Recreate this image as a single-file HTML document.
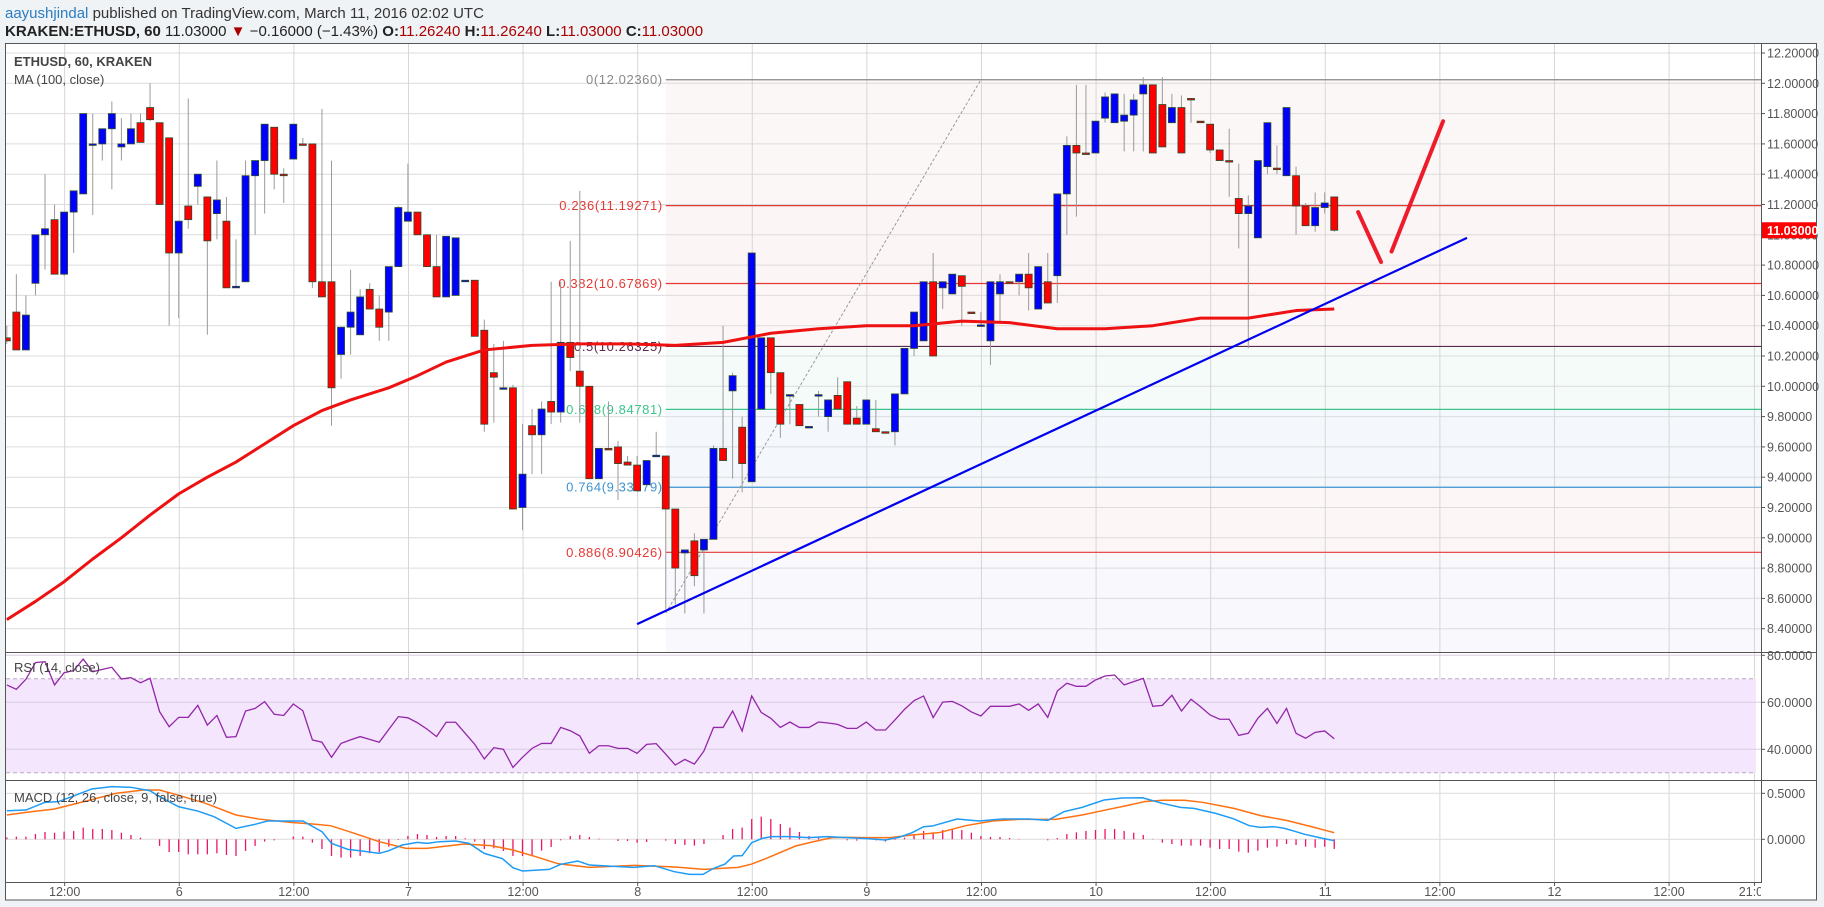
<!DOCTYPE html>
<html><head><meta charset="utf-8"><style>
html,body{margin:0;padding:0;background:#f0f3f6;}
svg{display:block;font-family:"Liberation Sans",sans-serif;}
</style></head><body>
<svg id="c" width="1824" height="907" viewBox="0 0 1824 907" xmlns="http://www.w3.org/2000/svg">
<rect x="0" y="0" width="1824" height="907" fill="#f0f3f6"/>
<text x="5" y="18" font-size="15"><tspan fill="#2a7dc1">aayushjindal</tspan><tspan fill="#333"> published on TradingView.com, March 11, 2016 02:02 UTC</tspan></text>
<text x="5" y="36" font-size="15" fill="#222"><tspan font-weight="bold">KRAKEN:ETHUSD, 60</tspan><tspan> 11.03000 </tspan><tspan fill="#a00">▼</tspan><tspan> −0.16000 (−1.43%) </tspan><tspan font-weight="bold">O:</tspan><tspan fill="#a00">11.26240 </tspan><tspan font-weight="bold">H:</tspan><tspan fill="#a00">11.26240 </tspan><tspan font-weight="bold">L:</tspan><tspan fill="#a00">11.03000 </tspan><tspan font-weight="bold">C:</tspan><tspan fill="#a00">11.03000</tspan></text>
<rect x="5.5" y="43.5" width="1811" height="856.5" fill="#fff" stroke="#555"/>
<defs>
<clipPath id="cm"><rect x="6" y="44" width="1755" height="608"/></clipPath>
<clipPath id="cr"><rect x="6" y="653" width="1755" height="127"/></clipPath>
<clipPath id="cd"><rect x="6" y="781" width="1755" height="101"/></clipPath>
<clipPath id="ct"><rect x="6" y="882" width="1755" height="18"/></clipPath>
</defs>
<g id="gMain" clip-path="url(#cm)"></g>
<g id="gRsi" clip-path="url(#cr)"></g>
<g id="gMacd" clip-path="url(#cd)"></g>
<g id="gTime" clip-path="url(#ct)"></g>
<g id="gAxis"></g>
<line x1="1761.5" y1="44" x2="1761.5" y2="882" stroke="#555"/>
<line x1="6" y1="652.5" x2="1817" y2="652.5" stroke="#555"/>
<line x1="6" y1="780.5" x2="1817" y2="780.5" stroke="#555"/>
<line x1="6" y1="882.5" x2="1762" y2="882.5" stroke="#555"/>
<text x="14" y="66" font-size="13" font-weight="bold" fill="#444">ETHUSD, 60, KRAKEN</text>
<text x="14" y="84" font-size="13" fill="#444">MA (100, close)</text>
<text x="14" y="672" font-size="13" fill="#444">RSI (14, close)</text>
<text x="14" y="802" font-size="13" fill="#444">MACD (12, 26, close, 9, false, true)</text>
</svg>
<script>
const opens=[10.32,10.49,10.24,10.68,11.00,11.10,10.74,11.15,11.27,11.60,11.60,11.70,11.58,11.60,11.74,11.84,11.74,11.64,10.88,11.19,11.32,11.25,11.14,11.09,10.65,10.69,11.39,11.49,11.71,11.40,11.50,11.60,11.60,10.69,10.69,10.21,10.39,10.34,10.64,10.51,10.49,10.79,11.09,11.15,11.00,10.79,10.59,10.60,10.70,10.70,10.37,10.09,9.99,9.99,9.20,9.74,9.68,9.90,9.83,10.29,10.10,10.00,9.39,9.59,9.60,9.50,9.48,9.35,9.54,9.54,9.19,8.90,8.98,8.92,8.99,9.59,9.97,9.73,9.37,9.85,10.32,10.09,9.94,9.88,9.73,9.94,9.80,9.94,10.03,9.79,9.75,9.72,9.70,9.70,9.95,10.25,10.30,10.69,10.65,10.61,10.73,10.49,10.40,10.30,10.61,10.69,10.69,10.74,10.51,10.69,10.73,11.27,11.59,11.54,11.54,11.77,11.74,11.75,11.79,11.93,11.99,11.86,11.74,11.84,11.90,11.75,11.73,11.56,11.49,11.24,11.14,10.98,11.45,11.44,11.39,11.39,11.19,11.06,11.18,11.25];
const highs=[10.40,10.74,10.60,11.00,11.40,11.20,11.15,11.29,11.80,11.80,11.70,11.88,11.77,11.80,11.80,12.00,11.74,11.64,11.09,11.90,11.40,11.25,11.49,11.25,10.97,11.49,11.49,11.73,11.71,11.44,11.73,11.64,11.60,11.83,11.49,10.39,10.77,10.64,10.68,10.60,10.79,11.19,11.47,11.15,11.00,11.00,10.99,10.98,10.70,10.70,10.44,10.28,10.30,10.01,9.75,9.85,9.90,10.69,10.69,10.96,11.29,10.00,9.59,9.90,9.64,9.54,9.54,9.51,9.70,9.54,9.19,8.92,9.03,8.99,9.61,10.40,10.09,9.80,10.88,10.32,10.32,10.09,9.94,9.88,9.73,9.97,9.91,10.06,10.03,9.87,9.91,9.91,9.70,9.95,10.25,10.49,10.69,10.88,10.69,10.74,10.73,10.49,10.49,10.69,10.74,10.69,10.74,10.88,10.79,10.88,11.27,11.65,11.99,11.99,11.75,11.94,11.93,11.93,11.93,12.04,11.99,12.04,11.93,11.92,11.90,11.75,11.73,11.56,11.70,11.47,11.26,11.49,11.74,11.59,11.84,11.45,11.21,11.28,11.28,11.25];
const lows=[10.28,10.24,10.24,10.60,10.77,10.74,10.73,10.88,11.27,11.13,11.49,11.30,11.49,11.60,11.61,11.75,11.20,10.40,10.45,11.04,11.20,10.34,10.97,10.65,10.65,10.69,11.00,11.14,11.30,11.21,11.50,11.60,10.65,10.59,9.74,10.05,10.21,10.34,10.51,10.30,10.30,10.79,11.09,11.00,10.79,10.59,10.59,10.60,10.70,10.33,9.70,9.76,9.99,9.19,9.05,9.42,9.42,9.75,9.76,10.10,9.76,9.39,9.39,9.58,9.25,9.48,9.31,9.35,9.54,8.53,8.56,8.50,8.68,8.50,8.99,9.51,9.39,9.30,9.37,9.85,9.95,9.66,9.75,9.74,9.73,9.80,9.70,9.85,9.75,9.75,9.75,9.70,9.69,9.61,9.95,10.20,10.30,10.20,10.51,10.61,10.40,10.48,10.40,10.14,10.43,10.68,10.60,10.50,10.51,10.55,10.55,11.00,11.12,11.53,11.54,11.74,11.74,11.55,11.55,11.55,11.54,11.58,11.74,11.54,11.74,11.74,11.54,11.49,11.25,10.91,10.25,10.98,11.40,11.40,11.39,11.00,11.06,11.02,11.14,11.02];
const closes=[10.30,10.24,10.47,11.00,11.04,10.74,11.15,11.29,11.80,11.60,11.70,11.80,11.60,11.70,11.61,11.76,11.20,10.88,11.09,11.10,11.40,10.96,11.23,10.65,10.66,11.39,11.49,11.73,11.40,11.39,11.73,11.595,10.69,10.59,9.99,10.39,10.49,10.59,10.51,10.39,10.79,11.18,11.15,11.00,10.79,10.59,10.99,10.98,10.70,10.33,9.75,10.06,9.99,9.19,9.42,9.68,9.85,9.83,10.29,10.19,10.00,9.39,9.59,9.58,9.49,9.48,9.31,9.51,9.545,9.19,8.80,8.92,8.75,8.99,9.59,9.51,10.07,9.49,10.88,10.32,10.09,9.75,9.945,9.74,9.735,9.945,9.91,9.85,9.75,9.75,9.91,9.70,9.695,9.95,10.25,10.49,10.69,10.20,10.69,10.74,10.66,10.485,10.405,10.69,10.69,10.685,10.74,10.65,10.79,10.55,11.27,11.59,11.54,11.535,11.75,11.91,11.93,11.79,11.89,11.99,11.54,11.58,11.84,11.54,11.895,11.74,11.56,11.49,11.485,11.14,11.19,11.49,11.74,11.435,11.84,11.19,11.06,11.18,11.21,11.03];
const maIdx=[0,3,6,9,12,15,18,21,24,27,30,33,36,40,43,46,50,55,60,65,70,75,80,85,90,95,100,105,110,115,120,125,130,135,139];
const maVal=[8.46,8.58,8.71,8.86,9.00,9.15,9.29,9.40,9.50,9.62,9.74,9.84,9.91,9.99,10.07,10.16,10.24,10.27,10.28,10.28,10.27,10.29,10.35,10.38,10.40,10.40,10.43,10.42,10.38,10.38,10.40,10.45,10.45,10.50,10.51];
const rsiVals=[67.4,65.5,69.8,76.9,77.3,67.4,72.6,73.5,78.4,73.0,74.0,74.9,69.9,70.5,68.3,70.2,56.0,49.6,53.6,53.6,58.7,50.3,54.4,45.1,45.4,56.3,57.4,60.3,54.9,54.4,59.3,56.4,44.0,43.0,36.6,42.5,44.0,45.4,44.2,43.0,48.5,53.9,53.4,51.3,48.6,45.4,51.5,51.5,46.8,42.1,35.9,40.7,40.0,32.3,36.6,40.4,42.5,42.5,49.3,47.9,45.7,38.3,41.5,41.5,40.4,40.4,38.3,42.1,42.4,37.9,33.3,35.7,33.7,39.3,49.3,49.3,56.3,47.8,62.7,55.7,53.2,49.3,51.6,49.3,49.3,51.6,51.2,50.6,48.9,48.9,51.6,48.2,48.2,52.5,57.0,60.7,62.7,53.5,60.1,60.4,58.5,55.9,54.2,58.3,58.3,58.3,59.3,56.6,59.3,53.6,64.8,68.1,66.8,66.8,69.5,71.2,71.6,67.4,68.8,70.2,58.3,58.7,63.0,56.3,61.3,58.1,54.6,52.8,52.8,45.9,46.8,53.2,57.4,51.0,57.4,46.8,44.7,47.2,47.8,44.5];
const histVals=[0.02,0.029,0.029,0.058,0.080,0.072,0.083,0.091,0.127,0.112,0.112,0.101,0.072,0.047,0.018,0,-0.072,-0.138,-0.138,-0.163,-0.163,-0.163,-0.152,-0.170,-0.181,-0.127,-0.072,-0.025,-0.011,0,0.029,0.029,-0.036,-0.105,-0.181,-0.199,-0.199,-0.181,-0.152,-0.141,-0.080,-0.007,0.036,0.058,0.047,0.025,0.036,0.036,0.011,-0.025,-0.105,-0.098,-0.127,-0.181,-0.181,-0.170,-0.123,-0.083,-0.011,0.036,0.047,0.025,0.007,0,-0.018,-0.018,-0.036,-0.029,0,-0.014,-0.051,-0.062,-0.069,-0.051,0,0.047,0.112,0.127,0.221,0.246,0.221,0.167,0.127,0.080,0.036,0.018,0.004,0,-0.011,-0.014,0,-0.011,-0.025,-0.007,0.018,0.054,0.091,0.076,0.101,0.112,0.101,0.072,0.036,0.025,0.025,0.014,0.004,0,0,-0.011,0.014,0.058,0.076,0.091,0.101,0.112,0.112,0.091,0.072,0.047,0.004,-0.036,-0.051,-0.069,-0.069,-0.069,-0.091,-0.105,-0.105,-0.134,-0.145,-0.123,-0.091,-0.080,-0.051,-0.062,-0.080,-0.091,-0.080,-0.105];
const macdIdx=[0,2,4,5.4,6.8,8.9,11,13,15,16,18,20,21.7,24,26,27.3,29.7,31,33,34,35.7,37,39,40,41.4,43,44,45.3,47,48.4,50,51.9,53,54,56.8,58,59.8,61,62.9,65.7,67.8,69.9,71.5,72.9,74,75.2,76.1,77,78,79.1,80.1,82,84,85.9,88,90.1,92,93.4,94.8,96,96.9,99.5,101.8,104.2,107,109,110.7,112.6,114.9,116.8,118.9,121,122.9,124.3,126.6,128.5,130.1,131.3,132.7,133.8,135,135.9,137.8,139];
const macdVals=[0.311,0.318,0.402,0.409,0.463,0.547,0.572,0.565,0.528,0.463,0.354,0.307,0.246,0.119,0.163,0.199,0.199,0.199,0.083,-0.044,-0.109,-0.124,-0.153,-0.124,-0.062,-0.033,-0.044,-0.026,-0.019,-0.044,-0.153,-0.211,-0.309,-0.345,-0.327,-0.272,-0.236,-0.280,-0.290,-0.305,-0.287,-0.352,-0.381,-0.381,-0.316,-0.269,-0.182,-0.178,-0.037,0.010,0.029,0.029,0.018,0.029,0.018,0.007,-0.007,0.021,0.072,0.137,0.144,0.221,0.199,0.221,0.221,0.206,0.300,0.347,0.427,0.449,0.452,0.391,0.347,0.336,0.282,0.221,0.148,0.130,0.137,0.119,0.083,0.054,0.010,-0.015];
const sigIdx=[0,2,5,9,11.4,14.3,16,18,20.8,24,26.4,29.7,32,33.9,36.2,39,41.8,44,47.9,50.7,53,55.4,57.7,61,65.7,69.4,70.5,73,76.6,78,79.8,82.6,84.5,86.4,88.3,90.1,92.5,94.8,97.6,100.4,103.2,106,109.8,112.6,115.4,117.2,119.1,121,123.3,125.2,128.5,131.3,134.1,136.9,139];
const sigVals=[0.264,0.293,0.329,0.434,0.499,0.536,0.536,0.478,0.391,0.264,0.220,0.184,0.166,0.148,0.072,-0.026,-0.098,-0.098,-0.051,-0.069,-0.116,-0.189,-0.265,-0.305,-0.283,-0.298,-0.305,-0.327,-0.305,-0.269,-0.196,-0.073,-0.025,0.018,0.021,0.018,0.018,0.047,0.072,0.148,0.199,0.217,0.217,0.264,0.326,0.365,0.409,0.424,0.424,0.402,0.336,0.257,0.203,0.130,0.072];
const priceTicks=[12.2,12.0,11.8,11.6,11.4,11.2,11.0,10.8,10.6,10.4,10.2,10.0,9.8,9.6,9.4,9.2,9.0,8.8,8.6,8.4];
const priceTickLabels=["12.20000","12.00000","11.80000","11.60000","11.40000","11.20000","11.00000","10.80000","10.60000","10.40000","10.20000","10.00000","9.80000","9.60000","9.40000","9.20000","9.00000","8.80000","8.60000","8.40000"];
const rsiTicks=[80,60,40];
const rsiTickLabels=["80.0000","60.0000","40.0000"];
const macdTicks=[0.5,0];
const macdTickLabels=["0.5000","0.0000"];
const timeTickIdx=[6.06,18.06,30.06,42.06,54.06,66.06,78.06,90.06,102.06,114.06,126.06,138.06,150.06,162.06,174.06,183.0];
const timeTickLabels=["12:00","6","12:00","7","12:00","8","12:00","9","12:00","10","12:00","11","12:00","12","12:00","21:00"];
const fibLevels=[0,0.236,0.382,0.5,0.618,0.764,0.886];
const fibColors=["#888888","#e53935","#e53935","#5a2a4a","#3cc48c","#3d94d0","#e53935"];
const fibFills=["#fcf7f7","#fcf5f5","#fcf6f6","#f5fbf9","#f4f8fc","#fcf6f7","#f8f8fd"];
const fibHigh=12.0236, fibLow=8.5029, fibStartIdx=69, fibEndIdx=102;
const trendIdx=[66,152.9], trendVal=[8.43,10.98];
const arrowA_Idx=[141.5,143.9], arrowA_Val=[11.15,10.82];
const arrowB_Idx=[145.0,150.4], arrowB_Val=[10.89,11.75];
const lastPrice=11.03;

const NS="http://www.w3.org/2000/svg";
const X=i=>6.8+9.55*i;
const Y=p=>53+(12.2-p)*151.5;
const YR=v=>749.3-(v-40)*2.35;
const YM=v=>839.3-v*92;
function mk(t,a,parent){const e=document.createElementNS(NS,t);for(const k in a)e.setAttribute(k,a[k]);parent.appendChild(e);return e;}
const gM=document.getElementById('gMain'),gR=document.getElementById('gRsi'),gD=document.getElementById('gMacd'),gT=document.getElementById('gTime'),gA=document.getElementById('gAxis');
const fibPrice=l=>fibHigh-l*(fibHigh-fibLow);

// fib background bands
const fx0=X(fibStartIdx);
for(let k=0;k<fibLevels.length;k++){
  const top=Y(fibPrice(fibLevels[k])), bot=k+1<fibLevels.length?Y(fibPrice(fibLevels[k+1])):652;
  const r=mk('rect',{x:fx0,y:top,width:1761-fx0,height:bot-top,fill:fibFills[k]},gM);
  
  
}
// grids
priceTicks.forEach(p=>{const l=mk('line',{x1:6,x2:1761,y1:Y(p),y2:Y(p),stroke:'#dcdcdc'},gM);
  
  });
[gM,gR,gD].forEach((g,gi)=>{timeTickIdx.forEach(t=>{const l=mk('line',{x1:X(t),x2:X(t),y1:gi==0?44:gi==1?653:781,y2:gi==0?652:gi==1?780:882,stroke:'#d6d6d6'},g);
  
  });});
// fib lines + labels
fibLevels.forEach((lv,k)=>{const y=Y(fibPrice(lv));
  const l=mk('line',{x1:fx0,x2:1761,y1:y,y2:y,stroke:fibColors[k],'stroke-width':1.2},gM);
  
  
  const t=mk('text',{x:fx0-3,y:y+4.5,'text-anchor':'end','font-size':13,fill:fibColors[k],'letter-spacing':'0.6'},gM);
  t.textContent=lv+'('+fibPrice(lv).toFixed(5)+')';
  
  });
// fib dashed diagonal
const fd=mk('line',{x1:X(fibStartIdx),y1:Y(fibLow),x2:X(fibEndIdx),y2:Y(fibHigh),stroke:'#999','stroke-dasharray':'3,2'},gM);


// candles
for(let i=0;i<opens.length;i++){
  const up=closes[i]>=opens[i];const x=X(i);
  const w=mk('line',{x1:x,x2:x,y1:Y(highs[i]),y2:Y(lows[i]),stroke:'#9a9a9a'},gM);
  
  
  const t=Y(Math.max(opens[i],closes[i])),b=Y(Math.min(opens[i],closes[i]));
  const r=mk('rect',{x:x-3.5,y:t,width:7,height:Math.max(b-t,1.5),fill:up?'#0000ff':'#ff0000',stroke:'#2d4a2d','stroke-width':0.8},gM);
  
  
}
// MA
const ma=mk('polyline',{points:maIdx.map((t,k)=>X(t)+','+Y(maVal[k])).join(' '),fill:'none',stroke:'#ee1111','stroke-width':3,'stroke-linejoin':'round'},gM);


// trendline
const tl=mk('line',{x1:X(trendIdx[0]),y1:Y(trendVal[0]),x2:X(trendIdx[1]),y2:Y(trendVal[1]),stroke:'#0000ee','stroke-width':2.2},gM);


const a1=mk('line',{x1:X(arrowA_Idx[0]),y1:Y(arrowA_Val[0]),x2:X(arrowA_Idx[1]),y2:Y(arrowA_Val[1]),stroke:'#ee1c2a','stroke-width':4,'stroke-linecap':'round'},gM);


const a2=mk('line',{x1:X(arrowB_Idx[0]),y1:Y(arrowB_Val[0]),x2:X(arrowB_Idx[1]),y2:Y(arrowB_Val[1]),stroke:'#ee1c2a','stroke-width':4,'stroke-linecap':'round'},gM);


// price axis
priceTicks.forEach((p,k)=>{const y=Y(p);
  const tk=mk('line',{x1:1762,x2:1765,y1:y,y2:y,stroke:'#555'},gA);
  
  
  const t=mk('text',{x:1767,y:y+4.5,'font-size':12.5,fill:'#555'},gA);t.textContent=priceTickLabels[k];
  
  });
const ly=Y(lastPrice);
const bd=mk('rect',{x:1761,y:ly-8,width:55,height:16,fill:'#ff0000'},gA);


const bt=mk('text',{x:1767,y:ly+4.5,'font-size':12.5,'font-weight':'bold',fill:'#fff'},gA);bt.textContent=lastPrice.toFixed(5);


// RSI
const rb=mk('rect',{x:6,y:YR(70),width:1750,height:YR(30)-YR(70),fill:'#f4e6fd'},gR);


rsiTicks.forEach((v,k)=>{const l=mk('line',{x1:6,x2:1761,y1:YR(v),y2:YR(v),stroke:'#d8cde0'},gR);
  
  
  const tk=mk('line',{x1:1762,x2:1765,y1:YR(v),y2:YR(v),stroke:'#555'},gA);
  
  
  const t=mk('text',{x:1767,y:YR(v)+4.5,'font-size':12.5,fill:'#555'},gA);t.textContent=rsiTickLabels[k];
  
  });
[70,30].forEach(v=>{const l=mk('line',{x1:6,x2:1756,y1:YR(v),y2:YR(v),stroke:'#b8a8c0','stroke-dasharray':'4,3'},gR);
  
  });
const rl=mk('polyline',{points:rsiVals.map((v,i)=>X(i)+','+YR(v)).join(' '),fill:'none',stroke:'#9326a8','stroke-width':1.3},gR);


// MACD
macdTicks.forEach((v,k)=>{const l=mk('line',{x1:6,x2:1761,y1:YM(v),y2:YM(v),stroke:'#dcdcdc'},gD);
  
  
  const tk=mk('line',{x1:1762,x2:1765,y1:YM(v),y2:YM(v),stroke:'#555'},gA);
  
  
  const t=mk('text',{x:1767,y:YM(v)+4.5,'font-size':12.5,fill:'#555'},gA);t.textContent=macdTickLabels[k];
  
  });
histVals.forEach((v,i)=>{const l=mk('line',{x1:X(i),x2:X(i),y1:YM(0),y2:YM(v),stroke:'#f0136a','stroke-width':1.3},gD);
  
  });
const sl=mk('polyline',{points:sigIdx.map((t,k)=>X(t)+','+YM(sigVals[k])).join(' '),fill:'none',stroke:'#ff7010','stroke-width':1.5},gD);


const ml=mk('polyline',{points:macdIdx.map((t,k)=>X(t)+','+YM(macdVals[k])).join(' '),fill:'none',stroke:'#1e9bf5','stroke-width':1.5},gD);


// time axis
timeTickIdx.forEach((t,k)=>{const tk=mk('line',{x1:X(t),x2:X(t),y1:882,y2:886,stroke:'#555'},gT);
  
  
  const tx=mk('text',{x:X(t),y:896,'text-anchor':'middle','font-size':12.5,fill:'#555'},gT);tx.textContent=timeTickLabels[k];
  
  });
</script>
</body></html>
